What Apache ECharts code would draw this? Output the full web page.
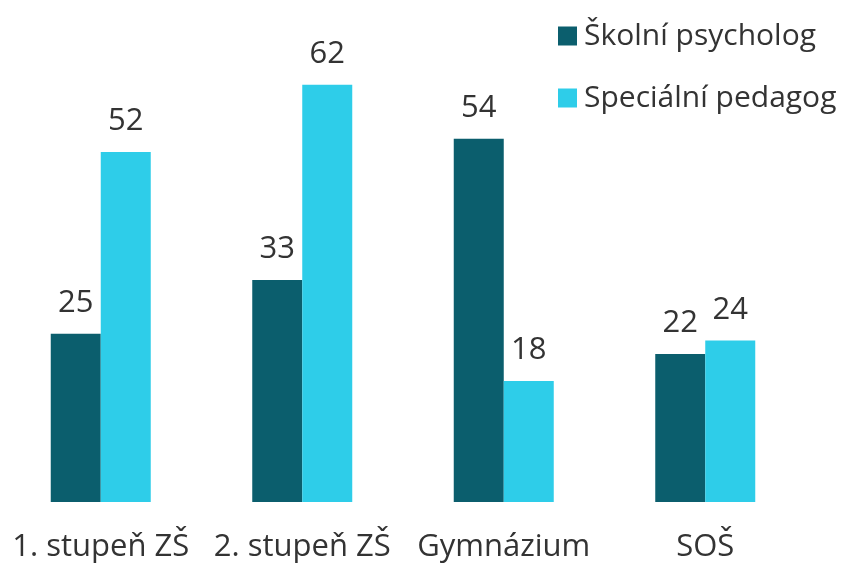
<!DOCTYPE html>
<html>
<head>
<meta charset="utf-8">
<script src="https://cdn.jsdelivr.net/npm/echarts@6/dist/echarts.min.js"></script>
<style>
  html, body { margin: 0; padding: 0; background: #fff; }
  #chart { width: 846px; height: 564px; }
</style>
</head>
<body>
<div id="chart"></div>
<script>
const categories = ['1. stupeň ZŠ', '2. stupeň ZŠ', 'Gymnázium', 'SOŠ']
const psycholog = [25, 33, 54, 22]
const pedagog = [52, 62, 18, 24]
const seriesNames = ['Školní psycholog', 'Speciální pedagog']

const FONT = '"Open Sans", "Noto Sans", sans-serif'
const TEXT = '#333333'

const chart = echarts.init(document.getElementById('chart'), null, { renderer: 'canvas' })

const label = {
  show: true,
  position: 'top',
  distance: 15,
  color: TEXT,
  fontFamily: FONT,
  fontSize: 31,
}

chart.setOption({
  backgroundColor: '#ffffff',
  animation: false,
  grid: { left: 0, right: 40, top: 31, bottom: 62, containLabel: false },
  legend: {
    orient: 'vertical',
    left: 553,
    top: 16,
    itemWidth: 19,
    itemHeight: 19,
    itemGap: 32,
    icon: 'rect',
    textStyle: { color: TEXT, fontFamily: FONT, fontSize: 30, padding: [0, 0, 0, 2] },
    data: seriesNames,
  },
  xAxis: {
    type: 'category',
    data: categories,
    axisLine: { show: false },
    axisTick: { show: false },
    axisLabel: { color: TEXT, fontFamily: FONT, fontSize: 31, margin: 30, interval: 0, hideOverlap: false },
  },
  yAxis: {
    type: 'value',
    min: 0,
    max: 70,
    show: false,
    splitLine: { show: false },
  },
  series: [
    {
      name: seriesNames[0],
      type: 'bar',
      data: psycholog,
      barWidth: 50,
      barGap: '0%',
      itemStyle: { color: '#0B5E6D' },
      label,
    },
    {
      name: seriesNames[1],
      type: 'bar',
      data: pedagog,
      barWidth: 50,
      barGap: '0%',
      itemStyle: { color: '#2ECDE9' },
      label,
    },
  ],
})
</script>
</body>
</html>
